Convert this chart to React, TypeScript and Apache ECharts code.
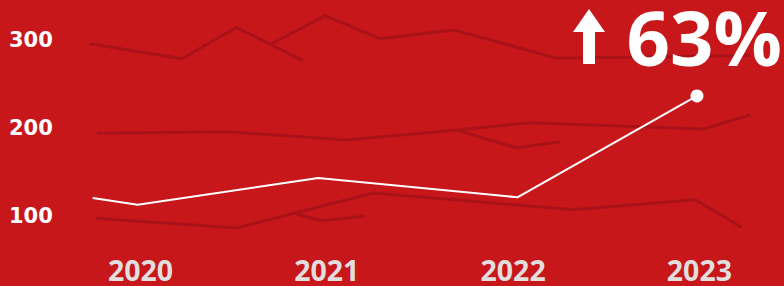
import React, { useEffect, useRef } from "react";
import * as echarts from "echarts";

// x = fractional year, y = value
const years = [2020, 2021, 2022, 2023];
const yTicks = [100, 200, 300];

const highlight: [number, number][] = [
  [2019.743, 119.9],
  [2019.985, 112.3],
  [2020.954, 142.6],
  [2022.023, 120.7],
  [2022.987, 235.8],
];

const ghostA: [number, number][] = [
  [2019.729, 295.2],
  [2020.221, 278.2],
  [2020.516, 313.9],
  [2020.871, 275.9],
];
const ghostB: [number, number][] = [
  [2020.704, 295.2],
  [2020.99, 327.0],
  [2021.285, 300.9],
  [2021.684, 310.8],
  [2022.234, 278.6],
  [2023.272, 281.8],
];
const ghostC: [number, number][] = [
  [2019.765, 193.4],
  [2020.463, 195.2],
  [2021.107, 185.8],
  [2021.697, 197.2],
  [2022.091, 205.5],
  [2023.021, 198.3],
  [2023.272, 214.2],
];
const ghostD: [number, number][] = [
  [2021.697, 197.2],
  [2022.019, 176.7],
  [2022.252, 183.9],
];
const ghostE: [number, number][] = [
  [2019.76, 96.8],
  [2020.516, 85.8],
  [2021.25, 125.6],
  [2022.323, 106.6],
  [2022.976, 118.0],
  [2023.227, 86.6],
];
const ghostF: [number, number][] = [
  [2020.82, 102.8],
  [2020.973, 94.1],
  [2021.205, 99.1],
];

const ghosts = [ghostA, ghostB, ghostC, ghostD, ghostE, ghostF];
const headline = "63%";

const BG = "#c8171b";
const GHOST = "#a91219";

export default function App() {
  const ref = useRef<HTMLDivElement>(null);
  useEffect(() => {
    const chart = echarts.init(ref.current!, null, { renderer: "svg" });
    const last = highlight[highlight.length - 1];
    chart.setOption({
      animation: false,
      backgroundColor: BG,
      grid: { left: 84.61, right: 28.71, top: 4.3, bottom: 35.3 },
      xAxis: {
        type: "value",
        min: 2019.7,
        max: 2023.3,
        axisLine: { show: false },
        axisTick: { show: false },
        splitLine: { show: false },
        axisLabel: {
          customValues: years,
          color: "#e2dede",
          fontFamily: "Open Sans",
          fontWeight: 700,
          fontSize: 28.5,
          lineHeight: 28,
          verticalAlign: "middle",
          margin: 19,
          formatter: (v: number) => String(v),
        },
      },
      yAxis: {
        type: "value",
        min: 60,
        max: 340,
        axisLine: { show: false },
        axisTick: { show: false },
        splitLine: { show: false },
        axisLabel: {
          customValues: yTicks,
          color: "#ffffff",
          fontFamily: "DejaVu Sans",
          fontWeight: 700,
          fontSize: 21,
          align: "left",
          margin: 75.6,
        },
      },
      series: [
        ...ghosts.map((d) => ({
          type: "line",
          data: d,
          symbol: "none",
          lineStyle: { color: GHOST, width: 3 },
          z: 1,
          silent: true,
        })),
        {
          type: "line",
          data: highlight,
          symbol: "none",
          lineStyle: { color: "#ffffff", width: 2 },
          z: 3,
        },
        {
          type: "scatter",
          data: [last],
          symbol: "circle",
          symbolSize: 13,
          itemStyle: { color: "#ffffff", opacity: 1 },
          z: 4,
        },
      ],
      graphic: [
        {
          type: "polygon",
          z: 10,
          shape: {
            points: [
              [589, 9],
              [605, 32],
              [595, 32],
              [595, 64],
              [583, 64],
              [583, 32],
              [573, 32],
            ],
          },
          style: { fill: "#ffffff" },
        },
        {
          type: "text",
          z: 10,
          x: 782,
          y: 36,
          style: {
            text: headline,
            fill: "#ffffff",
            font: "700 76px 'Open Sans'",
            align: "right",
            verticalAlign: "middle",
          },
        },
      ],
    });
    return () => chart.dispose();
  }, []);
  return (
    <div
      ref={ref}
      style={{ position: "fixed", left: 0, top: 0, width: 784, height: 286 }}
    />
  );
}
